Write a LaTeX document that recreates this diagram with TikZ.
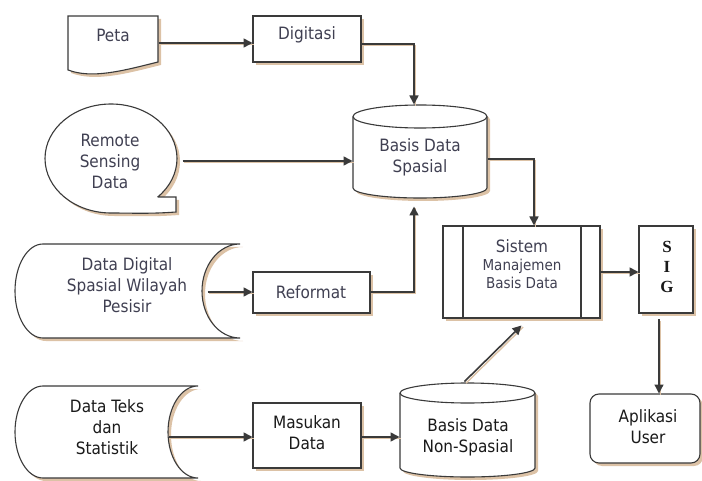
\documentclass[tikz,border=0pt]{standalone}
\usepackage{fontspec}
\setmainfont{DejaVu Sans Condensed}
\newfontfamily\sigfont{Liberation Serif}
\usetikzlibrary{arrows.meta}
\definecolor{linec}{HTML}{3A3A3A}
\definecolor{shadowc}{HTML}{DCC2A6}
\definecolor{txtup}{HTML}{404052}
\definecolor{txtlo}{HTML}{1A1A1A}
\tikzset{
  shp/.style={draw=linec, line width=1.1pt, fill=white},
  shd/.style={fill=shadowc, shift={(3pt,-3pt)}},
  lbl/.style={align=center, font=\fontsize{17}{21}\selectfont, inner sep=0pt},
  lblup/.style={lbl, text=txtup},
  lbllo/.style={lbl, text=txtlo},
  anc/.style={inner sep=0pt, outer sep=0pt, draw=none},
  arr/.style={draw=linec, line width=1.6pt, -{Triangle[length=9pt,width=9pt]},
    preaction={draw=shadowc, line width=1.4pt, -, transform canvas={shift={(1.6pt,-1.6pt)}}}},
}
\newcommand{\shape}[1]{\path[shd] #1; \path[shp] #1;}
\begin{document}
\begin{tikzpicture}[x=1pt,y=1pt]
\useasboundingbox (0,0) rectangle (702,480);
% ---- shapes ----
% Peta (document)
\shape{(68,464) -- (158,464) -- (158,418) .. controls (122,409) and (92,401) .. (68,410) -- cycle}
% Digitasi
\shape{(253,418) rectangle (361,464)}
% Remote sensing (callout)
\shape{(157.7,283) -- (176,283) -- (176,268) .. controls (150,266) and (130,267) .. (111,267) arc[start angle=270,end angle=-45,x radius=66,y radius=54.5] -- cycle}
% Data digital (stored data)
\shape{(43,236) -- (240,236) arc[start angle=90,end angle=270,x radius=38,y radius=47] -- (43,142) arc[start angle=270,end angle=90,x radius=28,y radius=47] -- cycle}
% Reformat
\shape{(253,167) rectangle (370,208)}
% Basis Data Spasial cylinder
\shape{(353,363.5) -- (353,292) arc[start angle=180,end angle=360,x radius=67,y radius=10] -- (487,363.5) arc[start angle=0,end angle=180,x radius=67,y radius=11.5] -- cycle}
\draw[draw=linec, line width=1.1pt] (353,363.5) arc[start angle=180,end angle=360,x radius=67,y radius=11.5];
% Sistem
\shape{(443,162) rectangle (600,254)}
\draw[draw=linec, line width=1.1pt] (463,162) -- (463,254) (581,162) -- (581,254);
% SIG
\shape{(639,167) rectangle (693,254)}
% Aplikasi
\shape{[rounded corners=9pt] (590,17) rectangle (700,86)}
% Non-spasial cylinder
\shape{(400,87) -- (400,12) arc[start angle=180,end angle=360,x radius=67.5,y radius=9] -- (535,87) arc[start angle=0,end angle=180,x radius=67.5,y radius=10] -- cycle}
\draw[draw=linec, line width=1.1pt] (400,87) arc[start angle=180,end angle=360,x radius=67.5,y radius=10];
% Data teks (stored data)
\shape{(43,94) -- (198,94) arc[start angle=90,end angle=270,x radius=30,y radius=46] -- (43,2) arc[start angle=270,end angle=90,x radius=28,y radius=46] -- cycle}
% Masukan
\shape{(253,12) rectangle (361,77)}

% ---- named anchor nodes ----
\node[anc] (peta) at (158,437) {};
\node[anc] (digL) at (253,437) {};
\node[anc] (digR) at (361,436) {};
\node[anc] (bdsT) at (414,375) {};
\node[anc] (rs) at (182,319) {};
\node[anc] (bdsL) at (353,319) {};
\node[anc] (dd) at (207,188) {};
\node[anc] (refL) at (253,188) {};
\node[anc] (refR) at (370,188) {};
\node[anc] (bdsB) at (414,274) {};
\node[anc] (bdsR) at (487,321) {};
\node[anc] (smT) at (534,254) {};
\node[anc] (smR) at (600,208) {};
\node[anc] (sigL) at (639,208) {};
\node[anc] (sigB) at (659,161) {};
\node[anc] (apT) at (659,86) {};
\node[anc] (nsT) at (464,98) {};
\node[anc] (smB) at (522,155) {};
\node[anc] (dt) at (168,43) {};
\node[anc] (masL) at (253,43) {};
\node[anc] (masR) at (361,43) {};
\node[anc] (nsL) at (400,43) {};

% ---- connectors ----
\draw[arr] (peta) -- (digL);
\draw[arr] (digR) -| (bdsT);
\draw[arr] (rs) -- (bdsL);
\draw[arr] (dd) -- (refL);
\draw[arr] (refR) -| (bdsB);
\draw[arr] (bdsR) -| (smT);
\draw[arr] (smR) -- (sigL);
\draw[arr, line width=1.3pt] (sigB) -- (apT);
\draw[arr] (nsT) -- (smB);
\draw[arr] (dt) -- (masL);
\draw[arr] (masR) -- (nsL);

% ---- labels ----
\node[lblup] (tpeta) at (113,445) {Peta};
\node[lblup] (tdig) at (307,445) {Digitasi};
\node[lblup] (trs) at (110,319) {Remote\\Sensing\\Data};
\node[lblup] (tbds) at (420,323) {Basis Data\\Spasial};
\node[lblup] (tdd) at (127,195) {Data Digital\\Spasial Wilayah\\Pesisir};
\node[lblup] (tref) at (311,188) {Reformat};
\node[lblup, align=center] (tsm) at (522,216) {Sistem\\[-3pt]{\fontsize{15}{19}\selectfont Manajemen}\\[-3pt]{\fontsize{15}{19}\selectfont Basis Data}};
\node[lbl, text=txtlo, font=\sigfont\bfseries\fontsize{17}{20}\selectfont] (tsig) at (667,213) {S\\I\\G};
\node[lbllo] (tap) at (648,53) {Aplikasi\\User};
\node[lbllo] (tns) at (468,43) {Basis Data\\Non-Spasial};
\node[lbllo] (tdt) at (107,53) {Data Teks\\dan\\Statistik};
\node[lbllo] (tmas) at (307,47) {Masukan\\Data};
\end{tikzpicture}
\end{document}
